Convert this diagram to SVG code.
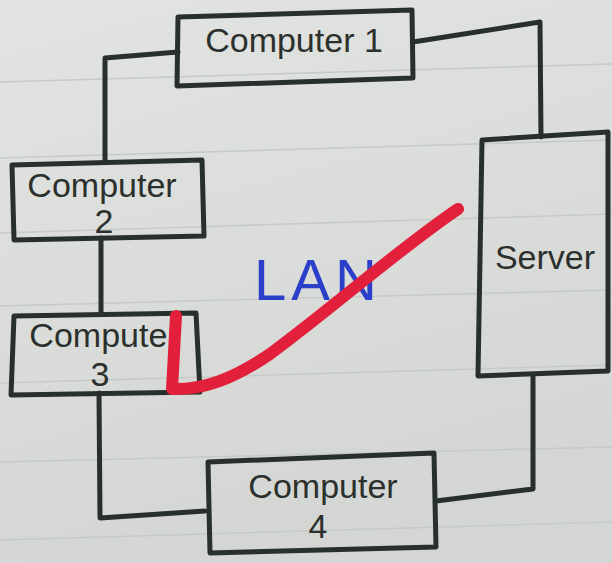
<svg xmlns="http://www.w3.org/2000/svg" width="612" height="563" viewBox="0 0 612 563">
<defs>
<linearGradient id="paper" x1="0" y1="0" x2="0.3" y2="1">
<stop offset="0" stop-color="#e2e4e1"/>
<stop offset="1" stop-color="#d3d6d3"/>
</linearGradient>
<style>
.rule{stroke:#c6cac8;stroke-width:1.5;fill:none}
.box{fill:none;stroke:#27302c;stroke-width:5;stroke-linejoin:round}
.wire{fill:none;stroke:#27302c;stroke-width:5;stroke-linejoin:round;stroke-linecap:round}
.lbl{font-family:"Liberation Sans",Arial,sans-serif;font-size:34px;fill:#2b302d;text-anchor:middle}
</style>
</defs>
<rect width="612" height="563" fill="url(#paper)"/>
<g id="paper-lines">
<path class="rule" d="M0,82 L612,64"/>
<path class="rule" d="M0,158 L612,140"/>
<path class="rule" d="M0,233 L612,214"/>
<path class="rule" d="M0,306 L612,290"/>
<path class="rule" d="M0,383 L612,365"/>
<path class="rule" d="M0,462 L612,447"/>
<path class="rule" d="M0,540 L612,522"/>
</g>
<g id="connectors">
<path class="wire" d="M178,52 L105,58 L105,160"/>
<path class="wire" d="M413,42 L540,22 L541,137"/>
<path class="wire" d="M101,238 L101,313"/>
<path class="wire" d="M99,393 L100,518 L205,511"/>
<path class="wire" d="M436,501 L533,489 L533,376"/>
</g>
<g id="computer1">
<path class="box" d="M178,17 L412,10 L413,78 L177,86 Z"/>
<text class="lbl" x="294" y="52" font-size="36">Computer 1</text>
</g>
<g id="computer2">
<path class="box" d="M12,165 L202,160 L204,236 L14,240 Z"/>
<text class="lbl" x="102" y="197" font-size="34">Computer</text>
<text class="lbl" x="104" y="233" font-size="30">2</text>
</g>
<g id="computer3">
<path class="box" d="M14,316 L196,313 L200,392 L11,395 Z"/>
<text class="lbl" x="104" y="347" font-size="34">Computer</text>
<text class="lbl" x="100" y="386" font-size="30">3</text>
</g>
<g id="server">
<path class="box" d="M482,140 L608,132 L608,371 L478,376 Z"/>
<text class="lbl" x="545" y="269" font-size="36">Server</text>
</g>
<g id="computer4">
<path class="box" d="M208,462 L434,453 L436,547 L210,553 Z"/>
<text class="lbl" x="323" y="498" font-size="40">Computer</text>
<text class="lbl" x="318" y="538">4</text>
</g>
<g id="lan-label">
<text x="318" y="300" font-family="'Liberation Sans',Arial,sans-serif" font-size="58" fill="#2b3fc8" text-anchor="middle" letter-spacing="5">LAN</text>
</g>
<g id="check-mark">
<path d="M458,209 C400,248 330,310 270,354 C232,380 202,390 172,389 L176,316" fill="none" stroke="#e2203c" stroke-width="12" stroke-linecap="round" stroke-linejoin="round"/>
</g>
</svg>
